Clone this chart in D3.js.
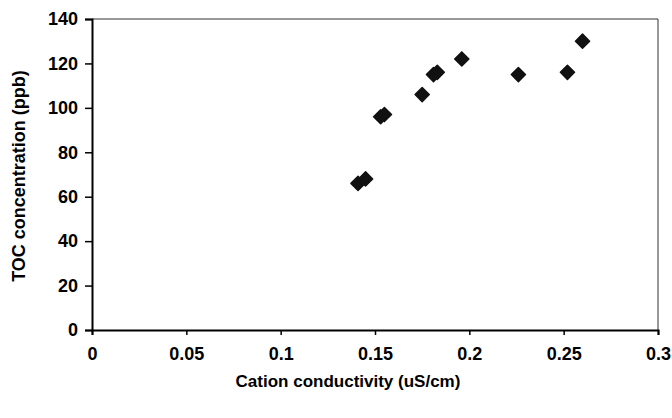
<!DOCTYPE html>
<html>
<head>
<meta charset="utf-8">
<script src="https://cdn.jsdelivr.net/npm/d3@7"></script>
<style>
  body { margin: 0; background: #fff; }
  text { font-family: "Liberation Sans", Arial, sans-serif; font-weight: bold; fill: #000; }
</style>
</head>
<body>
<svg id="chart"></svg>
<script>
// conductivity (uS/cm) and TOC (ppb)
const conductivity = [0.141, 0.145, 0.153, 0.155, 0.175, 0.181, 0.183, 0.196, 0.226, 0.252, 0.260];
const toc = [66, 68, 96, 97, 106, 115, 116, 122, 115, 116, 130];
const xTicks = [0, 0.05, 0.1, 0.15, 0.2, 0.25, 0.3];
const yTicks = [0, 20, 40, 60, 80, 100, 120, 140];

const W = 672, H = 418;
const margin = { top: 19, right: 14, bottom: 88, left: 92 };
const width = W - margin.left - margin.right;
const height = H - margin.top - margin.bottom;

const svg = d3.select("#chart")
    .attr("width", W)
    .attr("height", H);

const g = svg.append("g")
    .attr("transform", `translate(${margin.left},${margin.top})`);

const x = d3.scaleLinear().domain([0, 0.3]).range([0, width]);
const y = d3.scaleLinear().domain([0, 140]).range([height, 0]);

// plot area frame (top and right), thin
g.append("path")
    .attr("d", `M0,0H${width}V${height}`)
    .attr("fill", "none")
    .attr("stroke", "#333")
    .attr("stroke-width", 1);

// x axis
const xAxis = g.append("g")
    .attr("transform", `translate(0,${height})`)
    .call(d3.axisBottom(x).tickValues(xTicks).tickFormat(d => String(d)).tickSize(5).tickPadding(12));
xAxis.select(".domain").attr("stroke-width", 2);
xAxis.selectAll(".tick line").attr("stroke-width", 1.5);
xAxis.selectAll("text").style("font-size", "18px");

// y axis
const yAxis = g.append("g")
    .call(d3.axisLeft(y).tickValues(yTicks).tickSize(7).tickPadding(7));
yAxis.select(".domain").attr("stroke-width", 2);
yAxis.selectAll(".tick line").attr("stroke-width", 1.5);
yAxis.selectAll("text").style("font-size", "18px");

// axis titles
svg.append("text")
    .attr("x", 348)
    .attr("y", 387)
    .attr("text-anchor", "middle")
    .style("font-size", "17px")
    .text("Cation conductivity (uS/cm)");

svg.append("text")
    .attr("transform", `translate(25,176) rotate(-90)`)
    .attr("text-anchor", "middle")
    .style("font-size", "18px")
    .text("TOC concentration (ppb)");

// diamond markers
const diamond = d3.symbol().type(d3.symbolSquare).size(100);
g.selectAll(".pt")
    .data(conductivity.map((c, i) => [c, toc[i]]))
  .enter().append("path")
    .attr("class", "pt")
    .attr("d", diamond)
    .attr("transform", d => `translate(${x(d[0])},${y(d[1])}) rotate(45)`)
    .attr("fill", "#111")
    .attr("stroke", "#111")
    .attr("stroke-width", 1.5)
    .attr("stroke-linejoin", "round");
</script>
</body>
</html>
